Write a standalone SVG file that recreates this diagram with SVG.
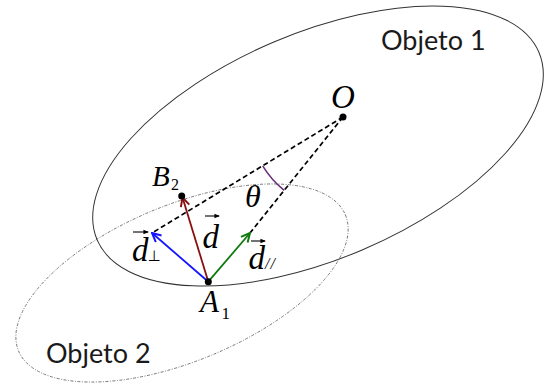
<svg xmlns="http://www.w3.org/2000/svg" width="544" height="383" viewBox="0 0 544 383">
<style>
.math{font-family:"Liberation Serif","Times New Roman",serif;font-style:italic;fill:#000}
.obj{font-family:Lato,"Open Sans",sans-serif;font-size:27px;fill:#1a1a1a}
.dash{stroke:#000;stroke-width:1.7;stroke-dasharray:5 3;fill:none}
.dot{fill:#000}
.vec{stroke:#000;stroke-width:1.1;fill:none}
</style>
<defs>
<marker id="hb" viewBox="0 0 10 10" refX="9" refY="5" markerWidth="11" markerHeight="11" markerUnits="userSpaceOnUse" orient="auto"><path d="M1,1 L9,5 L1,9" fill="none" stroke="#1515ff" stroke-width="1.8"/></marker>
<marker id="hr" viewBox="0 0 10 10" refX="9" refY="5" markerWidth="11" markerHeight="11" markerUnits="userSpaceOnUse" orient="auto"><path d="M1,1 L9,5 L1,9" fill="none" stroke="#8a1010" stroke-width="1.8"/></marker>
<marker id="hg" viewBox="0 0 10 10" refX="9" refY="5" markerWidth="11" markerHeight="11" markerUnits="userSpaceOnUse" orient="auto"><path d="M1,1 L9,5 L1,9" fill="none" stroke="#107a10" stroke-width="1.8"/></marker>
<marker id="acc" viewBox="0 0 6 6" refX="5" refY="3" markerWidth="5.5" markerHeight="5.5" markerUnits="userSpaceOnUse" orient="auto"><path d="M0,0.5 L6,3 L0,5.5 Z" fill="#000"/></marker>
</defs>
<rect width="544" height="383" fill="#fff"/>
<g id="objeto1">
<ellipse cx="318" cy="146" rx="240" ry="113" transform="rotate(-23 318 146)" fill="none" stroke="#333" stroke-width="1"/>
<text class="obj" x="381" y="50">Objeto 1</text>
</g>
<g id="objeto2">
<ellipse cx="182" cy="283" rx="177" ry="78" transform="rotate(-22.6 182 283)" fill="none" stroke="#666" stroke-width="0.8" stroke-dasharray="3 1.5 1 1.5"/>
<text class="obj" x="46" y="363">Objeto 2</text>
</g>
<g id="connectors">
<line class="dash" x1="343" y1="117" x2="152" y2="233"/>
<line class="dash" x1="343" y1="117" x2="250" y2="233"/>
<path d="M262.7,165.8 A94,94 0 0 0 284.2,190.3" fill="none" stroke="#6a2a78" stroke-width="1.5"/>
<line x1="208.3" y1="281.7" x2="152" y2="233" stroke="#1515ff" stroke-width="1.8" marker-end="url(#hb)"/>
<line x1="208.3" y1="281.7" x2="182.5" y2="197.5" stroke="#8a1010" stroke-width="1.8" marker-end="url(#hr)"/>
<line x1="208.3" y1="281.7" x2="250" y2="233" stroke="#107a10" stroke-width="1.8" marker-end="url(#hg)"/>
</g>
<g id="O">
<circle class="dot" cx="343" cy="117" r="3.5"/>
<text class="math" x="331" y="108" font-size="33">O</text>
</g>
<g id="B2">
<circle class="dot" cx="181.7" cy="196" r="3.5"/>
<text class="math" x="152" y="186" font-size="29">B<tspan font-style="normal" font-size="16" x="171" y="190">2</tspan></text>
</g>
<g id="A1">
<circle class="dot" cx="208.3" cy="281.7" r="3.5"/>
<text class="math" x="200" y="312" font-size="31">A<tspan font-style="normal" font-size="17" x="221.5" y="318.5">1</tspan></text>
</g>
<g id="theta">
<text class="math" x="245" y="207" font-size="32">θ</text>
</g>
<g id="d">
<path class="vec" d="M205,216 H219" marker-end="url(#acc)"/>
<text class="math" x="202.5" y="248" font-size="33">d</text>
</g>
<g id="d-perp">
<path class="vec" d="M133,232 H148" marker-end="url(#acc)"/>
<text class="math" x="132" y="260.5" font-size="33">d<tspan font-style="normal" font-family="DejaVu Sans,sans-serif" font-size="15" x="147.5" y="261">⊥</tspan></text>
</g>
<g id="d-par">
<path class="vec" d="M251,241 H265" marker-end="url(#acc)"/>
<text class="math" x="248.5" y="268.5" font-size="33">d<tspan font-size="16" letter-spacing="1" x="265" y="268.5">//</tspan></text>
</g>
</svg>
